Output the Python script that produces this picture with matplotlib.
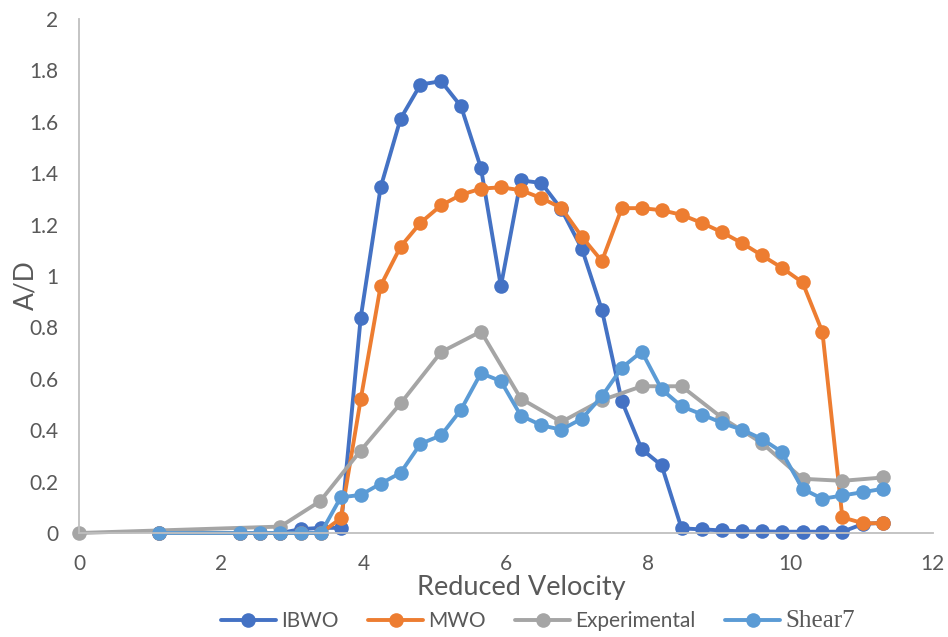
import matplotlib
matplotlib.use("Agg")
import matplotlib.pyplot as plt
from matplotlib.ticker import FuncFormatter

# ---------------- data ----------------
ibwo_x = [1.13, 2.26, 2.54, 2.83, 3.12, 3.40, 3.68, 3.96, 4.24, 4.52, 4.80, 5.09, 5.37,
          5.65, 5.93, 6.21, 6.50, 6.78, 7.07, 7.35, 7.63, 7.91, 8.19, 8.47, 8.76, 9.04,
          9.32, 9.60, 9.88, 10.17, 10.45, 10.73, 11.02, 11.30]
ibwo_y = [0.0, 0.0, 0.0, 0.0, 0.015, 0.02, 0.02, 0.838, 1.345, 1.612, 1.745, 1.758, 1.660,
          1.420, 0.960, 1.372, 1.362, 1.260, 1.105, 0.868, 0.513, 0.326, 0.263, 0.018, 0.014,
          0.010, 0.006, 0.006, 0.005, 0.005, 0.005, 0.005, 0.035, 0.040]

mwo_x = [1.13, 2.26, 2.54, 2.83, 3.12, 3.40, 3.68, 3.96, 4.24, 4.52, 4.80, 5.09, 5.37,
         5.65, 5.93, 6.21, 6.50, 6.78, 7.07, 7.35, 7.63, 7.91, 8.19, 8.47, 8.76, 9.04,
         9.32, 9.60, 9.88, 10.17, 10.45, 10.73, 11.02, 11.30]
mwo_y = [0.0, 0.0, 0.0, 0.0, 0.0, 0.0, 0.057, 0.520, 0.962, 1.114, 1.207, 1.275, 1.316,
         1.340, 1.345, 1.334, 1.303, 1.265, 1.152, 1.058, 1.264, 1.264, 1.256, 1.238, 1.206,
         1.170, 1.128, 1.080, 1.032, 0.975, 0.782, 0.061, 0.038, 0.038]

exp_x = [0.0, 2.83, 3.39, 3.96, 4.52, 5.09, 5.65, 6.21, 6.78, 7.35, 7.91, 8.47, 9.04,
         9.60, 10.17, 10.73, 11.30]
exp_y = [0.0, 0.025, 0.124, 0.321, 0.504, 0.704, 0.784, 0.523, 0.432, 0.517, 0.571, 0.571,
         0.448, 0.350, 0.211, 0.203, 0.216]

sh_x = [1.13, 2.26, 2.54, 2.83, 3.12, 3.40, 3.68, 3.96, 4.24, 4.52, 4.80, 5.09, 5.37,
        5.65, 5.93, 6.21, 6.50, 6.78, 7.07, 7.35, 7.63, 7.91, 8.19, 8.47, 8.76, 9.04,
        9.32, 9.60, 9.88, 10.17, 10.45, 10.73, 11.02, 11.30]
sh_y = [0.0, 0.0, 0.0, 0.0, 0.0, 0.0, 0.139, 0.148, 0.192, 0.234, 0.347, 0.380, 0.480,
        0.622, 0.591, 0.457, 0.419, 0.402, 0.445, 0.532, 0.643, 0.706, 0.559, 0.493, 0.461,
        0.428, 0.402, 0.366, 0.315, 0.172, 0.133, 0.146, 0.159, 0.172]

series_names = ["IBWO", "MWO", "Experimental", "Shear7"]
series_colors = ["#4472C4", "#ED7D31", "#A5A5A5", "#5B9BD5"]
x_ticks = [0, 2, 4, 6, 8, 10, 12]
y_ticks = [0, 0.2, 0.4, 0.6, 0.8, 1.0, 1.2, 1.4, 1.6, 1.8, 2.0]

# ---------------- plot ----------------
plt.rcParams['font.family'] = ['Lato', 'DejaVu Sans']
txt_color = "#595959"
axis_color = "#BFBFBF"

fig = plt.figure(figsize=(9.48, 6.37), dpi=100)
ax = fig.add_axes([79 / 948, (637 - 533) / 637, (932.7 - 79) / 948, (533 - 19) / 637])

data = [(ibwo_x, ibwo_y), (mwo_x, mwo_y), (exp_x, exp_y), (sh_x, sh_y)]
for (xs, ys), name, col in zip(data, series_names, series_colors):
    ax.plot(xs, ys, color=col, lw=2.8, marker='o', markersize=10.5,
            markeredgewidth=0, label=name, solid_capstyle='round', clip_on=False)

ax.set_xlim(0, 12)
ax.set_ylim(0, 2)
ax.set_xticks(x_ticks)
ax.set_yticks(y_ticks)
ax.yaxis.set_major_formatter(FuncFormatter(lambda v, p: f"{v:g}"))
ax.tick_params(axis='both', length=0, labelsize=15, colors=txt_color)
ax.tick_params(axis='x', pad=15)
ax.tick_params(axis='y', pad=15)
for s in ['top', 'right']:
    ax.spines[s].set_visible(False)
for s in ['left', 'bottom']:
    ax.spines[s].set_color(axis_color)
    ax.spines[s].set_linewidth(1.3)

fig.text(521 / 948, 1 - 588 / 637, "Reduced Velocity", ha='center', va='center',
         fontsize=19.5, color=txt_color)
fig.text(26 / 948, 1 - 285 / 637, "A/D", ha='center', va='center', rotation=90,
         fontsize=19, color=txt_color)

leg = fig.legend(loc='center', bbox_to_anchor=(538 / 948, 1 - 621 / 637), ncol=4,
                 frameon=False, fontsize=15, handlelength=2.65, handletextpad=0.25,
                 columnspacing=1.4, labelcolor=txt_color, borderaxespad=0)
leg.get_texts()[3].set_family(['Liberation Serif', 'DejaVu Serif'])
leg.get_texts()[3].set_fontsize(18)

fig.savefig("out.png", dpi=100)
